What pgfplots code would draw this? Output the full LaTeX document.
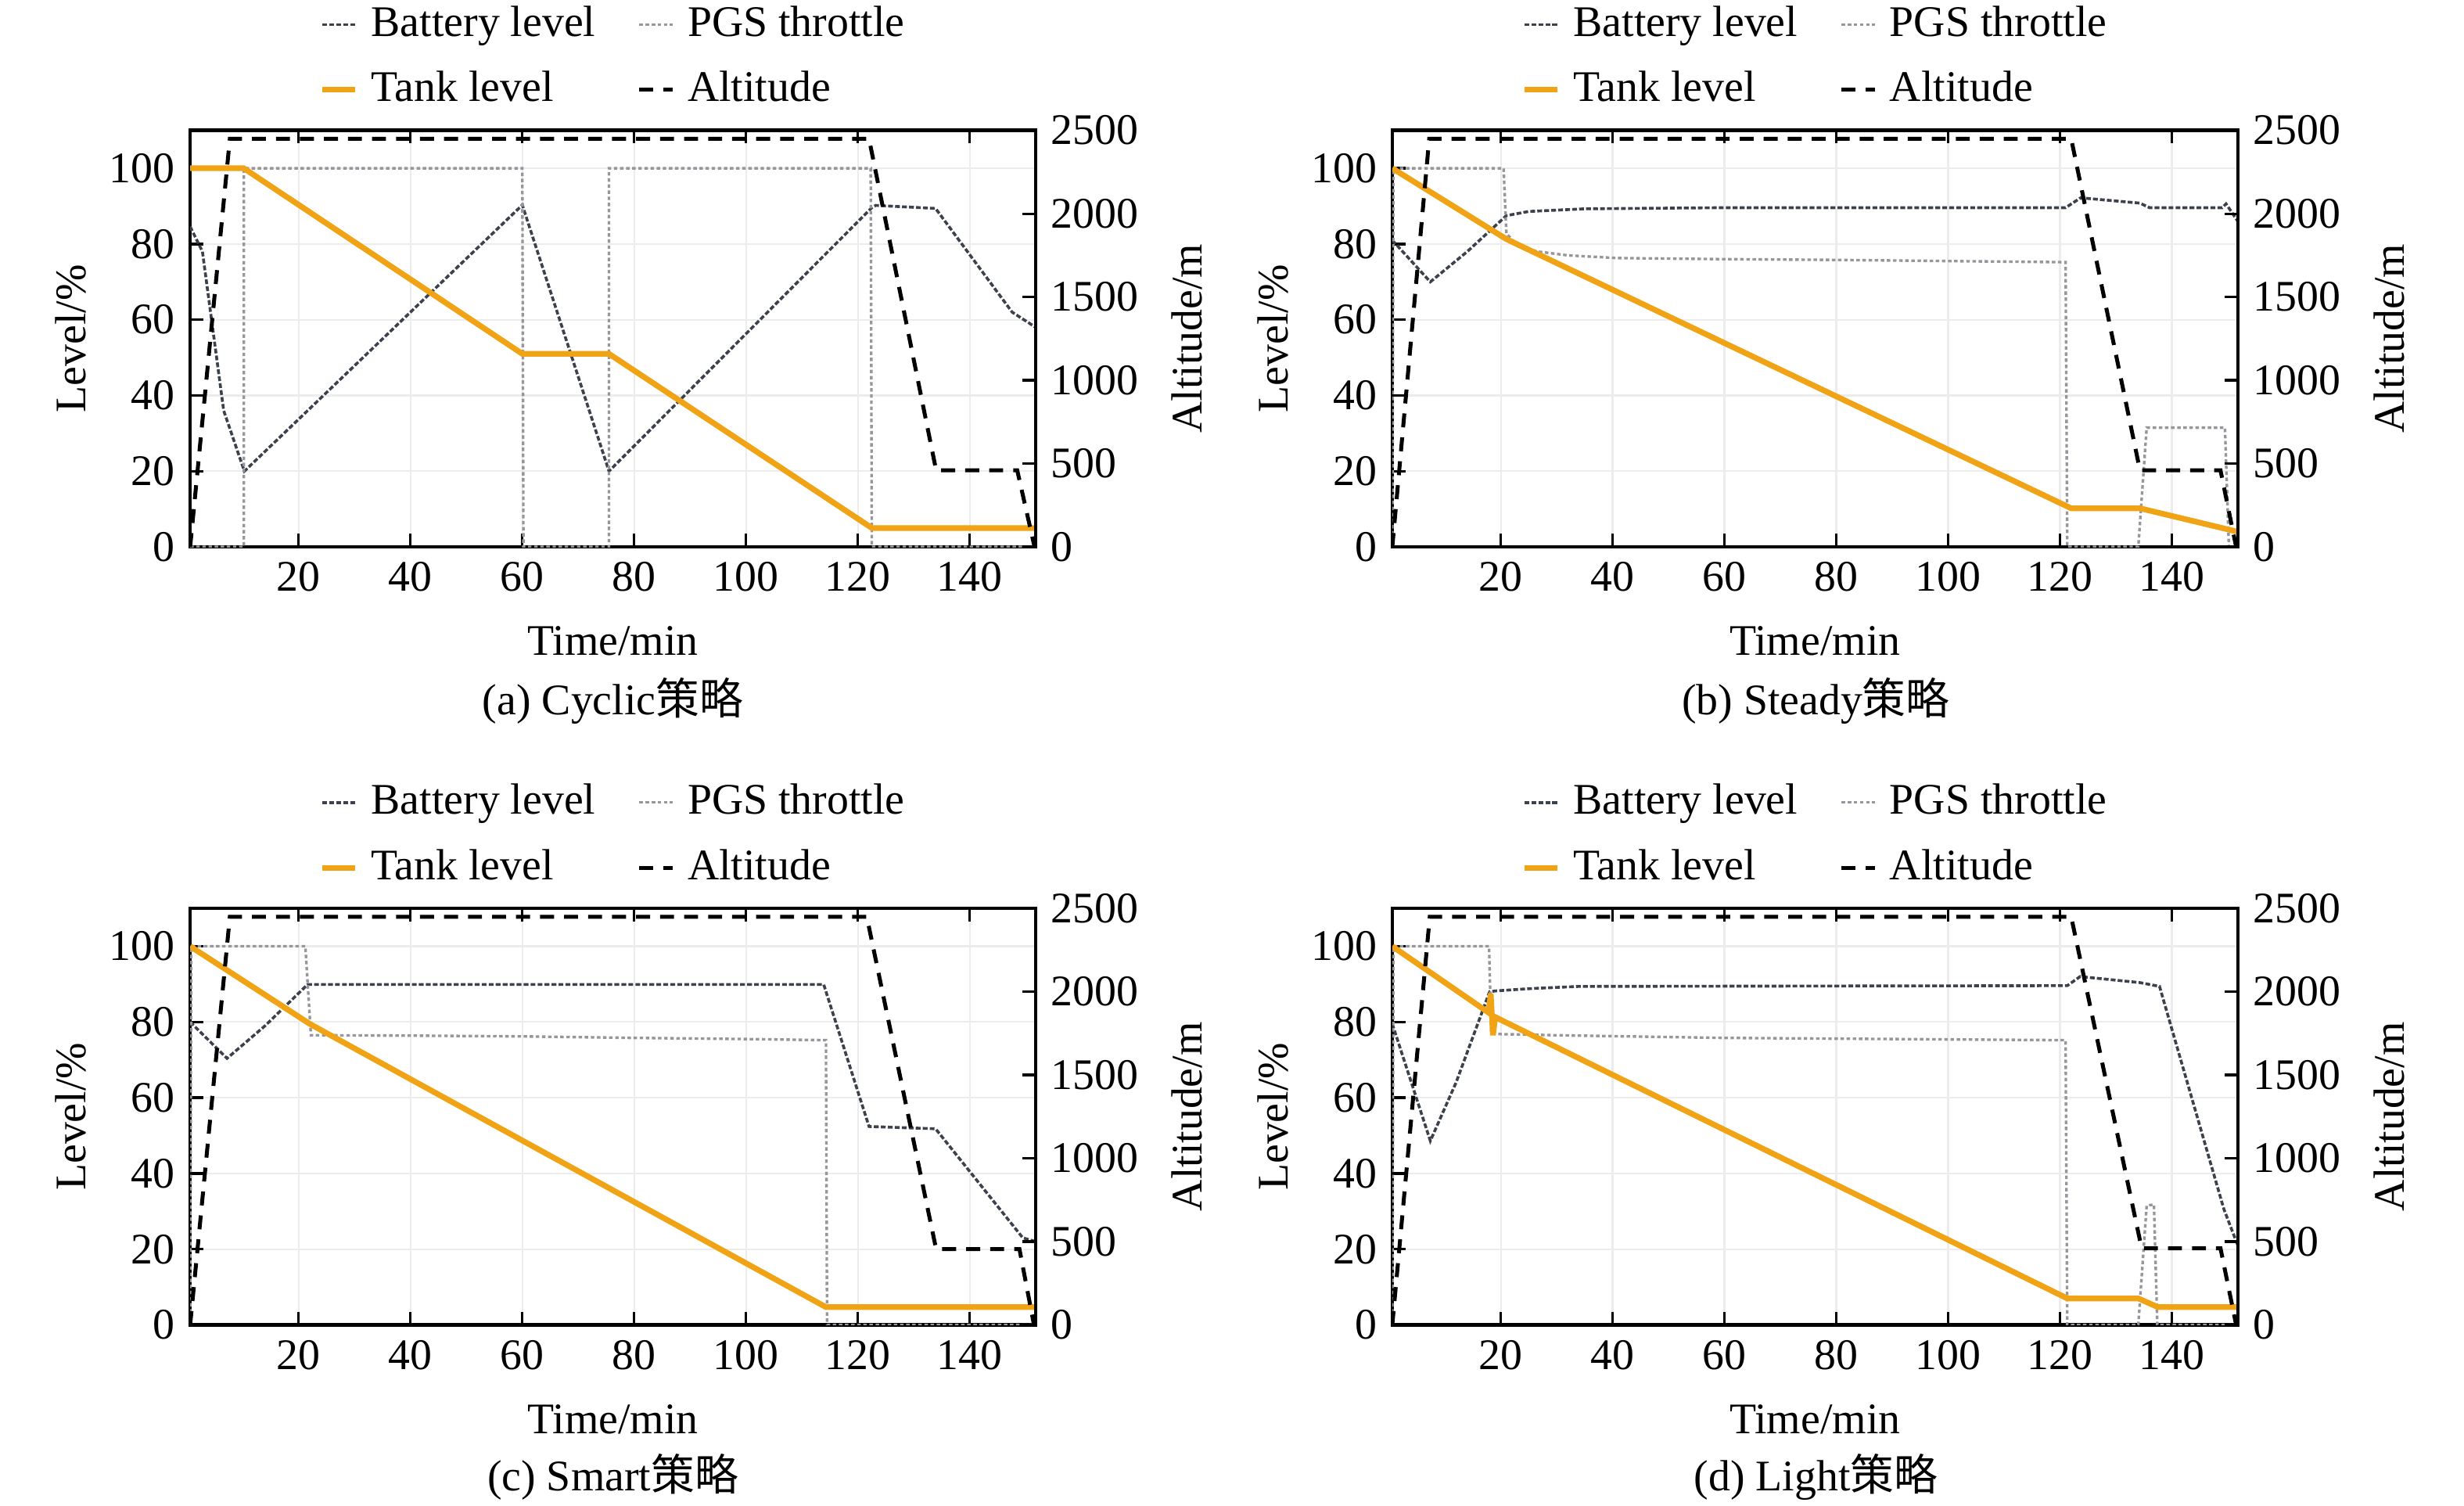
\documentclass[border=0pt]{standalone}
\usepackage{fontspec}
\setmainfont{Liberation Serif}
\newfontfamily\cjk{Noto Sans CJK SC}
\usepackage{pgfplots}
\pgfplotsset{compat=1.18}
\definecolor{tankc}{RGB}{240,163,20}
\definecolor{batc}{RGB}{60,66,76}
\definecolor{pgsc}{RGB}{150,150,156}
\definecolor{gridc}{RGB}{236,236,236}
\tikzset{
  batst/.style={batc, line width=0.65pt, dash pattern=on 1.1pt off 0.5pt},
  pgsst/.style={pgsc, line width=0.6pt, dash pattern=on 0.8pt off 0.6pt},
  tankst/.style={tankc, line width=1.3pt},
  altst/.style={black, line width=0.9pt, dash pattern=on 3.2pt off 2.3pt},
}
\pgfplotsset{
  base/.style={
    scale only axis, width=193.7pt, height=95.4pt,
    xmin=0.6, xmax=151.8,
    anchor=south west,
    /pgf/number format/assume math mode=true,
    /pgf/number format/1000 sep={},
    axis line style={line width=0.8pt},
    tick align=inside,
    major tick length=3pt,
    every tick/.style={black, line width=0.6pt},
  },
  leftax/.style={base,
    ymin=0, ymax=110,
    xtick={20,40,...,140}, ytick={0,20,...,100},
    xtick pos=both, ytick pos=left,
    grid=major, grid style={gridc, line width=0.4pt},
    xlabel={Time/min}, ylabel={Level/\%},
    xlabel style={at={(axis description cs:0.5,0)}, anchor=center, yshift=-21.6pt},
    ylabel style={at={(axis description cs:0,0.5)}, anchor=center, yshift=27.4pt},
    legend columns=2, legend cell align=left,
    legend style={at={(axis description cs:0.5,1)}, anchor=south, yshift=0.9pt, xshift=0.8pt, draw=none, fill=none,
      /tikz/every even column/.append style={column sep=7.6pt}, row sep=2.5pt},
    legend image code/.code={\draw[##1] (0pt,0pt) -- (7.6pt,0pt); \path (8.6pt,0pt);},
  },
  rightax/.style={base,
    ymin=0, ymax=2500, ytick={0,500,...,2500},
    axis x line=none, axis y line*=right,
    ylabel={Altitude/m},
    ylabel style={at={(axis description cs:1,0.5)}, anchor=center, yshift=-34.6pt},
  },
}
\begin{document}
\begin{tikzpicture}
\useasboundingbox (0,0) rectangle (564.48pt,344.88pt);
% ---------------- (a) Cyclic
\begin{axis}[leftax, at={(43.56pt,219.6pt)}]
\addplot[batst] coordinates {(0.6,84.6) (2.8,78) (6.6,36) (10.3,20) (60,90.3) (75.5,20) (122.5,89.6) (123.2,90.2) (133.9,89.4) (147.6,62) (151.8,58)};
\addlegendentry{Battery level}
\addplot[pgsst] coordinates {(0.6,0) (10.2,0) (10.2,100) (60,100) (60.2,0) (75.5,0) (75.5,100) (122.3,100) (122.5,0) (151.8,0)};
\addlegendentry{PGS throttle}
\addplot[tankst] coordinates {(0.6,100) (10.2,100) (60,51) (75.5,51) (122.5,5) (151.8,5)};
\addlegendentry{Tank level}
\addlegendimage{altst}
\addlegendentry{Altitude}
\end{axis}
\begin{axis}[rightax, at={(43.56pt,219.6pt)}]
\addplot[altst] coordinates {(0.6,0) (7.7,2450) (122,2450) (134,460) (148.5,460) (151.6,0)};
\end{axis}
\node at (140.4pt,184.32pt) {(a) Cyclic\cjk{策略}};
% ---------------- (b) Steady
\begin{axis}[leftax, at={(318.96pt,219.6pt)}]
\addplot[batst] coordinates {(0.6,81) (7.4,70) (14,78) (21,87.5) (25,88.6) (35,89.3) (60,89.6) (121,89.6) (123.7,92.2) (134.3,90.8) (136,89.6) (149,89.6) (149.7,90.6) (151.8,86)};
\addlegendentry{Battery level}
\addplot[pgsst] coordinates {(0.6,0) (0.8,100) (20.5,100) (21,82.8) (23,79.5) (26.6,78) (32,77) (40.7,76.3) (60,76) (80,75.8) (100,75.5) (121,75.2) (121.3,0) (134,0) (135.5,31.5) (149.5,31.5) (150.2,0) (151.8,0)};
\addlegendentry{PGS throttle}
\addplot[tankst] coordinates {(0.6,100) (21,81.3) (122,10.2) (134.3,10.2) (151.8,4)};
\addlegendentry{Tank level}
\addlegendimage{altst}
\addlegendentry{Altitude}
\end{axis}
\begin{axis}[rightax, at={(318.96pt,219.6pt)}]
\addplot[altst] coordinates {(0.6,0) (7.2,2450) (122,2450) (134.3,460) (148.7,460) (151.5,0)};
\end{axis}
\node at (415.98pt,184.32pt) {(b) Steady\cjk{策略}};
% ---------------- (c) Smart
\begin{axis}[leftax, at={(43.56pt,41.4pt)}]
\addplot[batst] coordinates {(0.6,80) (7.2,70.4) (14,79) (21.6,89.9) (113.9,89.9) (122,52.4) (133.9,51.8) (149.5,23) (151.8,22)};
\addlegendentry{Battery level}
\addplot[pgsst] coordinates {(0.6,0) (0.8,100) (21.2,100) (22.2,76.5) (40,76.4) (60,76.2) (80,75.8) (100,75.5) (114.3,75.2) (114.5,0) (151.8,0)};
\addlegendentry{PGS throttle}
\addplot[tankst] coordinates {(0.6,100) (22,79.5) (114.3,4.7) (151.8,4.7)};
\addlegendentry{Tank level}
\addlegendimage{altst}
\addlegendentry{Altitude}
\end{axis}
\begin{axis}[rightax, at={(43.56pt,41.4pt)}]
\addplot[altst] coordinates {(0.6,0) (7.7,2450) (121.6,2450) (134,455) (148.9,455) (151.5,0)};
\end{axis}
\node at (140.4pt,6.48pt) {(c) Smart\cjk{策略}};
% ---------------- (d) Light
\begin{axis}[leftax, at={(318.96pt,41.4pt)}]
\addplot[batst] coordinates {(0.6,79.5) (7.4,48.6) (12,64) (18,88) (19,88.2) (25,88.8) (34,89.4) (121.3,89.6) (123.6,92) (134.3,90.4) (137.8,89.4) (149.3,30.6) (151.4,22.5) (151.8,21)};
\addlegendentry{Battery level}
\addplot[pgsst] coordinates {(0.6,0) (0.8,100) (17.9,100) (18.3,77) (20,76.8) (30,76.5) (60,75.8) (100,75.4) (121,75.2) (121.3,0) (134,0) (135.5,31.5) (136.8,31.8) (137.4,0) (151.8,0)};
\addlegendentry{PGS throttle}
\addplot[tankst] coordinates {(0.6,100) (17.8,82.5) (18.2,87.5) (18.6,76.5) (19,81.3) (121.3,7) (134,7) (137.5,4.7) (151.8,4.7)};
\addlegendentry{Tank level}
\addlegendimage{altst}
\addlegendentry{Altitude}
\end{axis}
\begin{axis}[rightax, at={(318.96pt,41.4pt)}]
\addplot[altst] coordinates {(0.6,0) (7.3,2450) (122,2450) (134.6,460) (148.7,460) (151.5,0)};
\end{axis}
\node at (415.98pt,6.48pt) {(d) Light\cjk{策略}};
\end{tikzpicture}
\end{document}
